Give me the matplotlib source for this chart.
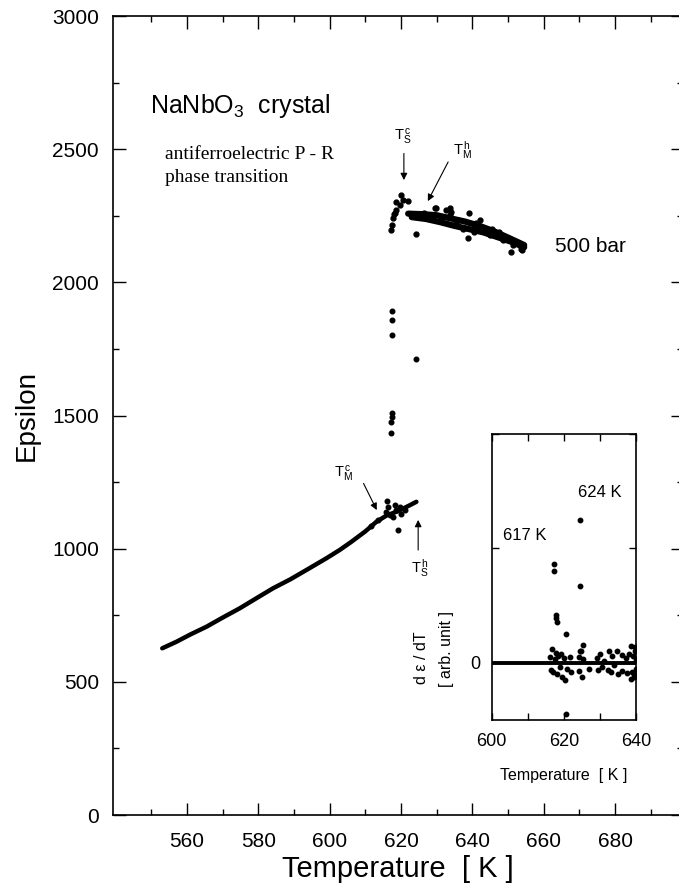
import matplotlib
matplotlib.use('Agg')
import matplotlib.pyplot as plt

plt.rcParams['font.family'] = ['Liberation Sans', 'DejaVu Sans']
plt.rcParams['mathtext.fontset'] = 'custom'
plt.rcParams['mathtext.rm'] = 'Liberation Sans'
plt.rcParams['mathtext.it'] = 'Liberation Sans:italic'

# lower branch (heating, below transition)
low_T = [553.1, 557, 561, 565.5, 570, 574.8, 579, 584.1, 589, 593.5, 599.1,
         602.8, 606, 610, 613.1, 616, 619, 622, 624.3]
low_eps = [626, 650, 678, 707, 741, 776, 810, 851, 885, 920, 964,
           995, 1025, 1065, 1101, 1125, 1140, 1160, 1176]

# scattered points around the lower end
low_pts_T = [616.1, 615.9, 616.3, 616.8, 618.2, 618.7, 617.7, 619.1, 620.1, 619.6, 621.0,
             611.5, 613.5]
low_pts_eps = [1180, 1139, 1157, 1127, 1164, 1145, 1120, 1072, 1132, 1157, 1145,
               1085, 1108]

# points in the jump
jump_T = [617.6, 617.6, 617.5, 624.1, 617.4, 617.4, 617.3, 617.2]
jump_eps = [1893, 1859, 1802, 1712, 1508, 1495, 1477, 1433]

# upper branch (500 bar) - two traces of the band
up1_T = [622, 626, 630, 634, 638, 642, 646, 650, 654.5]
up1_eps = [2258, 2256, 2252, 2240, 2228, 2212, 2192, 2168, 2140]
up2_T = [623, 627, 631, 635, 639, 643, 647, 651, 654.5]
up2_eps = [2245, 2238, 2226, 2212, 2200, 2188, 2170, 2152, 2132]

up_pts_T = [617.3, 617.5, 617.8, 618.0, 618.3, 618.7, 618.5, 619.6, 620.1, 620.5,
            621.9, 624.1, 629.7, 632.5, 633.7, 629.4, 633.7, 633.9, 639.0, 638.8,
            642.0, 650.9, 653.7, 644.8, 636.0, 647.5, 641.0, 652.5, 626.5, 628.5,
            637.5, 640.5, 645.5, 648.5, 651.5, 654.0, 635.5, 631.5]
up_pts_eps = [2197, 2215, 2240, 2255, 2262, 2272, 2302, 2291, 2328, 2310,
              2306, 2181, 2278, 2272, 2253, 2278, 2281, 2265, 2259, 2165,
              2234, 2115, 2127, 2178, 2235, 2190, 2222, 2150, 2262, 2250,
              2200, 2190, 2200, 2160, 2140, 2120, 2222, 2240]

# inset: d eps / dT
zero_T = [600, 640]
zero_d = [0, 0]
ins_T = [624.4, 617.3, 617.3, 617.9, 617.9, 618.0, 624.5, 620.5, 625.1, 624.5,
         617.8, 620.5,
         616.0, 616.3, 616.8, 617.0, 617.5, 618.0, 618.3, 618.8, 619.2, 619.5,
         620.0, 620.3, 620.8, 621.5, 622.0, 624.0, 624.2, 624.6, 625.0, 625.3,
         627.0, 629.0, 629.5, 630.0, 630.5, 631.0, 632.0, 632.5, 633.0, 633.3,
         633.8, 634.5, 635.0, 636.1, 636.1, 637.0, 637.5, 638.0, 638.5, 638.6,
         639.0, 639.3, 639.5, 639.8, 639.8, 639.6, 639.2, 638.8]
ins_d = [1.25, 0.86, 0.80, 0.42, 0.39, 0.36, 0.67, 0.25, 0.16, 0.10,
         0.085, -0.45,
         0.05, -0.06, 0.12, -0.08, 0.03, -0.10, 0.06, -0.04, 0.08, -0.12,
         0.04, -0.15, -0.05, 0.05, -0.08, 0.05, -0.07, 0.10, -0.12, 0.03,
         -0.05, 0.04, -0.06, 0.08, -0.04, 0.02, -0.06, 0.10, -0.08, 0.06,
         -0.02, 0.10, -0.10, 0.07, -0.07, 0.04, -0.09, 0.08, 0.15, -0.14,
         0.06, -0.10, 0.14, -0.05, 0.03, 0.10, -0.12, -0.08]

fig = plt.figure(figsize=(6.79, 8.96), dpi=100)
ax = fig.add_axes([0.1664, 0.0904, 0.8395, 0.8917])

ax.plot(low_T, low_eps, color='black', lw=3.2, solid_capstyle='round')
ax.plot(low_pts_T, low_pts_eps, 'o', color='black', ms=3.3)
ax.plot(jump_T, jump_eps, 'o', color='black', ms=3.3)
ax.plot(up1_T, up1_eps, color='black', lw=4.5, solid_capstyle='round')
ax.plot(up2_T, up2_eps, color='black', lw=4.5, solid_capstyle='round')
ax.plot(up_pts_T, up_pts_eps, 'o', color='black', ms=3.5)

ax.set_xlim(539.3, 699)
ax.set_ylim(0, 3000)
ax.set_xticks(range(560, 681, 20))
ax.set_xticks(range(550, 691, 20), minor=True)
ax.set_yticks(range(0, 3001, 500))
ax.set_yticks(range(250, 3000, 500), minor=True)
ax.tick_params(which='both', direction='in', top=True, right=True, labelsize=15, width=1)
ax.tick_params(which='major', length=9)
ax.tick_params(which='minor', length=4.5)
ax.tick_params(axis='x', pad=12)
ax.tick_params(axis='y', pad=10)
for s in ax.spines.values():
    s.set_linewidth(1.2)

ax.set_xlabel('Temperature  [ K ]', fontsize=21, labelpad=3)
ax.set_ylabel('Epsilon', fontsize=20, labelpad=9)

ax.text(549.6, 2636, 'NaNbO$_3$  crystal', fontsize=18, ha='left', va='baseline')
ax.text(553.8, 2378, 'antiferroelectric P - R\nphase transition', fontsize=14,
        family=['Liberation Serif', 'DejaVu Serif'], ha='left', va='baseline',
        linespacing=1.45)
ax.text(663, 2134, '500 bar', fontsize=15, ha='left', va='center')

arrow = dict(arrowstyle='-|>', color='black', lw=0.8, mutation_scale=10,
             shrinkA=0, shrinkB=0)
ax.annotate('', xy=(620.8, 2384), xytext=(620.8, 2484), arrowprops=arrow)
ax.annotate('', xy=(627.5, 2305), xytext=(633.2, 2452), arrowprops=arrow)
ax.annotate('', xy=(613.2, 1145), xytext=(609.5, 1245), arrowprops=arrow)
ax.annotate('', xy=(624.8, 1108), xytext=(624.8, 995), arrowprops=arrow)
ax.text(620.6, 2546, r'T$_\mathrm{S}^{\,\mathrm{c}}$', fontsize=10.5, ha='center', va='center')
ax.text(637.3, 2497, r'T$_\mathrm{M}^{\,\mathrm{h}}$', fontsize=10.5, ha='center', va='center')
ax.text(603.8, 1282, r'T$_\mathrm{M}^{\,\mathrm{c}}$', fontsize=10.5, ha='center', va='center')
ax.text(625.2, 927, r'T$_\mathrm{S}^{\,\mathrm{h}}$', fontsize=10.5, ha='center', va='center')

# inset
axi = fig.add_axes([0.7241, 0.1964, 0.2133, 0.3192])
axi.plot(zero_T, zero_d, color='black', lw=2.8)
axi.plot(ins_T, ins_d, 'o', color='black', ms=3.2)
axi.set_xlim(600, 640)
axi.set_ylim(-0.5, 2.0)
axi.set_xticks([600, 620, 640])
axi.set_xticks([610, 630], minor=True)
axi.set_yticks([0, 1, 2])
axi.set_yticklabels(['0', '', ''])
axi.tick_params(which='both', direction='in', top=True, right=True, labelsize=13,
                length=5, width=1)
axi.tick_params(axis='x', pad=9)
axi.tick_params(axis='y', pad=8)
for s in axi.spines.values():
    s.set_linewidth(1.2)
axi.set_xlabel('Temperature  [ K ]', fontsize=11.5, labelpad=13)
axi.text(609.1, 1.117, '617 K', fontsize=12, ha='center', va='center')
axi.text(629.8, 1.49, '624 K', fontsize=12, ha='center', va='center')
fig.text(421 / 679, 1 - 658 / 896, 'd ε / dT', fontsize=11.5, rotation=90,
         ha='center', va='center')
fig.text(447 / 679, 1 - 649 / 896, '[ arb. unit ]', fontsize=11.5, rotation=90,
         ha='center', va='center')

fig.savefig('out.png', dpi=100)
